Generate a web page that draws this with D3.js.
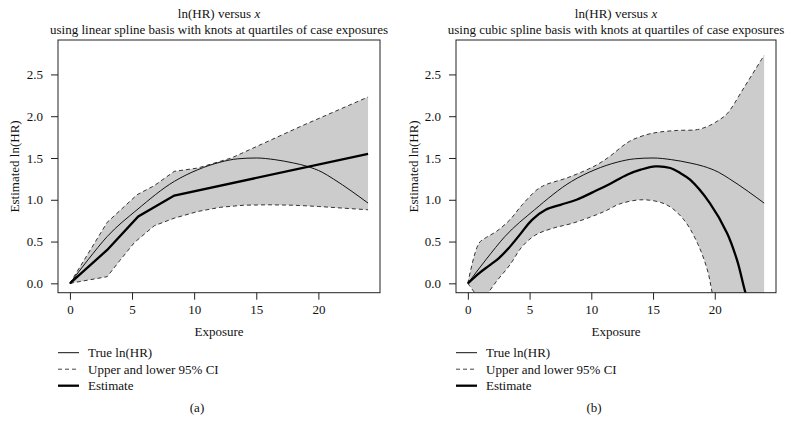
<!DOCTYPE html>
<html><head><meta charset="utf-8">
<script src="https://cdn.jsdelivr.net/npm/d3@7"></script>
<style>
body{margin:0;background:#fff;}
svg{display:block;font-family:"Liberation Serif","Times New Roman",serif;}
</style></head>
<body><svg id="c" width="793" height="434"></svg>
<script>
// ---------- data ----------
const xTicks = [0, 5, 10, 15, 20];
const yTicks = [0, 0.5, 1.0, 1.5, 2.0, 2.5];
const legendLabels = ["True ln(HR)", "Upper and lower 95% CI", "Estimate"];
const panelLetters = ["(a)", "(b)"];
const titleLine2 = [
  "using linear spline basis with knots at quartiles of case exposures",
  "using cubic spline basis with knots at quartiles of case exposures"
];

// true ln(HR) (same in both panels)
const trueX = [0, 1.5, 3, 5.4, 8.4, 10.3, 12.1, 13.5, 15, 16.5, 18, 19.1, 20.3, 21.2, 22.7, 24];
const trueY = [0, 0.29, 0.56, 0.88, 1.22, 1.36, 1.45, 1.49, 1.50, 1.48, 1.44, 1.40, 1.33, 1.25, 1.10, 0.96];

// panel (a): linear spline
const linEstX = [0, 3, 5.5, 8.4, 24];
const linEstY = [0, 0.40, 0.80, 1.05, 1.55];
const linUpX = [0, 3, 5.4, 6.8, 8.4, 10.3, 12.1, 13, 18.6, 24];
const linUpY = [0, 0.73, 1.06, 1.17, 1.34, 1.38, 1.46, 1.50, 1.88, 2.23];
const linLoX = [0, 3, 4, 5.2, 6.8, 8.4, 10.3, 12.1, 14, 16, 18, 20, 22, 24];
const linLoY = [0, 0.08, 0.27, 0.49, 0.69, 0.78, 0.86, 0.91, 0.935, 0.94, 0.935, 0.92, 0.90, 0.88];

// panel (b): cubic spline
const cubEstX = [0, 0.9, 1.7, 2.5, 3.3, 4.2, 5.2, 6.3, 7.5, 8.8, 10.4, 11.5, 12.9, 14, 15.2, 16.4, 17.2, 18.0, 19.6, 21.0, 21.8, 22.5, 23.5, 24];
const cubEstY = [0, 0.12, 0.21, 0.30, 0.42, 0.58, 0.76, 0.88, 0.94, 1.00, 1.11, 1.19, 1.30, 1.36, 1.40, 1.38, 1.32, 1.24, 0.96, 0.60, 0.28, -0.12, -0.6, -0.9];
const cubUpX = [0, 0.9, 1.5, 2.3, 3.4, 4.4, 5.6, 6.3, 8.0, 9.8, 10.7, 11.5, 13.1, 14.5, 15.5, 17.0, 18.6, 19.6, 20.3, 21, 22.4, 24];
const cubUpY = [0, 0.48, 0.55, 0.62, 0.76, 0.94, 1.12, 1.18, 1.26, 1.37, 1.44, 1.52, 1.70, 1.78, 1.81, 1.83, 1.84, 1.89, 1.95, 2.03, 2.35, 2.73];
const cubLoX = [0, 0.6, 1.1, 1.6, 2.3, 3.4, 4.4, 5.5, 6.9, 8.5, 10.4, 11.2, 12.3, 14.2, 16.1, 17.5, 18.6, 19.4, 19.8, 20.3, 21, 24];
const cubLoY = [0, -0.12, -0.2, -0.12, 0.02, 0.22, 0.44, 0.58, 0.66, 0.72, 0.82, 0.87, 0.95, 1.00, 0.94, 0.76, 0.48, 0.16, -0.12, -0.5, -1.1, -3];

// ---------- drawing ----------
const svg = d3.select("#c");
const zip = (xs, ys) => xs.map((x, i) => [x, ys[i]]);

const panels = [
  {left: 58, right: 380, est: zip(linEstX, linEstY), up: zip(linUpX, linUpY), lo: zip(linLoX, linLoY), curve: d3.curveLinear, estCurve: d3.curveLinear, ylab: 15},
  {left: 456, right: 776, est: zip(cubEstX, cubEstY), up: zip(cubUpX, cubUpY), lo: zip(cubLoX, cubLoY), curve: d3.curveCatmullRom.alpha(0.5), estCurve: d3.curveCatmullRom.alpha(0.5), ylab: 414}
];
const plotTop = 40, plotBottom = 292.7;
const trueData = zip(trueX, trueY);

panels.forEach((p, i) => {
  const x = d3.scaleLinear().domain([-0.96, 24.96]).range([p.left, p.right]);
  const y = d3.scaleLinear().domain([-0.112, 2.912]).range([plotBottom, plotTop]);
  const g = svg.append("g");
  const cid = "clip" + i;
  svg.append("defs").append("clipPath").attr("id", cid)
    .append("rect").attr("x", p.left).attr("y", plotTop).attr("width", p.right - p.left).attr("height", plotBottom - plotTop);
  const pg = g.append("g").attr("clip-path", `url(#${cid})`);

  const mk = c => d3.line().x(d => x(d[0])).y(d => y(d[1])).curve(c);
  const upPath = mk(p.curve)(p.up);
  const loPath = mk(p.curve)(p.lo.slice().reverse());
  pg.append("path").attr("d", upPath + "L" + loPath.slice(1) + "Z")
    .attr("fill", "#cccccc").attr("stroke", "none");

  pg.append("path").attr("d", mk(p.curve)(p.up))
    .attr("fill", "none").attr("stroke", "#333").attr("stroke-width", 1).attr("stroke-dasharray", "4,3");
  pg.append("path").attr("d", mk(p.curve)(p.lo))
    .attr("fill", "none").attr("stroke", "#333").attr("stroke-width", 1).attr("stroke-dasharray", "4,3");
  pg.append("path").attr("d", mk(d3.curveMonotoneX)(trueData))
    .attr("fill", "none").attr("stroke", "#111").attr("stroke-width", 1);
  pg.append("path").attr("d", mk(p.estCurve)(p.est))
    .attr("fill", "none").attr("stroke", "#000").attr("stroke-width", 2.3);

  // box
  g.append("rect").attr("x", p.left).attr("y", plotTop).attr("width", p.right - p.left).attr("height", plotBottom - plotTop)
    .attr("fill", "none").attr("stroke", "#222").attr("stroke-width", 1);

  // axes
  const xa = g.append("g").attr("transform", `translate(0,${plotBottom})`)
    .call(d3.axisBottom(x).tickValues(xTicks).tickSize(7).tickPadding(5).tickFormat(d3.format("d")));
  xa.select(".domain").remove();
  const ya = g.append("g").attr("transform", `translate(${p.left},0)`)
    .call(d3.axisLeft(y).tickValues(yTicks).tickSize(7).tickPadding(8).tickFormat(d3.format(".1f")));
  ya.select(".domain").remove();
  [xa, ya].forEach(a => {
    a.attr("font-family", null);
    a.selectAll("line").attr("stroke", "#222");
    a.selectAll("text").attr("font-family", "Liberation Serif, serif").attr("font-size", 13).attr("fill", "#111");
  });

  const cx = (p.left + p.right) / 2;
  const t1 = g.append("text").attr("x", cx).attr("y", 18).attr("text-anchor", "middle")
    .attr("font-size", 13).attr("fill", "#111");
  t1.append("tspan").text("ln(HR) versus ");
  t1.append("tspan").attr("font-style", "italic").text("x");
  g.append("text").attr("x", cx).attr("y", 34).attr("text-anchor", "middle")
    .attr("font-size", 13).attr("fill", "#111").text(titleLine2[i]);

  g.append("text").attr("x", cx).attr("y", 336).attr("text-anchor", "middle")
    .attr("font-size", 13).attr("fill", "#111").text("Exposure");
  g.append("text").attr("transform", `translate(${p.ylab + 4},${(plotTop + plotBottom) / 2}) rotate(-90)`)
    .attr("text-anchor", "middle").attr("font-size", 13).attr("fill", "#111").text("Estimated ln(HR)");

  const lx = p.left, ly0 = 352.7, dy = 16.5;
  const styles = [
    {w: 1, dash: null, c: "#111"},
    {w: 1, dash: "4,3", c: "#444"},
    {w: 2.3, dash: null, c: "#000"}
  ];
  legendLabels.forEach((lab, k) => {
    const yy = ly0 + k * dy;
    g.append("line").attr("x1", lx).attr("x2", lx + 21).attr("y1", yy).attr("y2", yy)
      .attr("stroke", styles[k].c).attr("stroke-width", styles[k].w)
      .attr("stroke-dasharray", styles[k].dash);
    g.append("text").attr("x", lx + 30).attr("y", yy + 4.5).attr("font-size", 13).attr("fill", "#111").text(lab);
  });

  g.append("text").attr("x", cx - 22).attr("y", 412).attr("text-anchor", "middle")
    .attr("font-size", 13).attr("fill", "#111").text(panelLetters[i]);
});
</script></body></html>
